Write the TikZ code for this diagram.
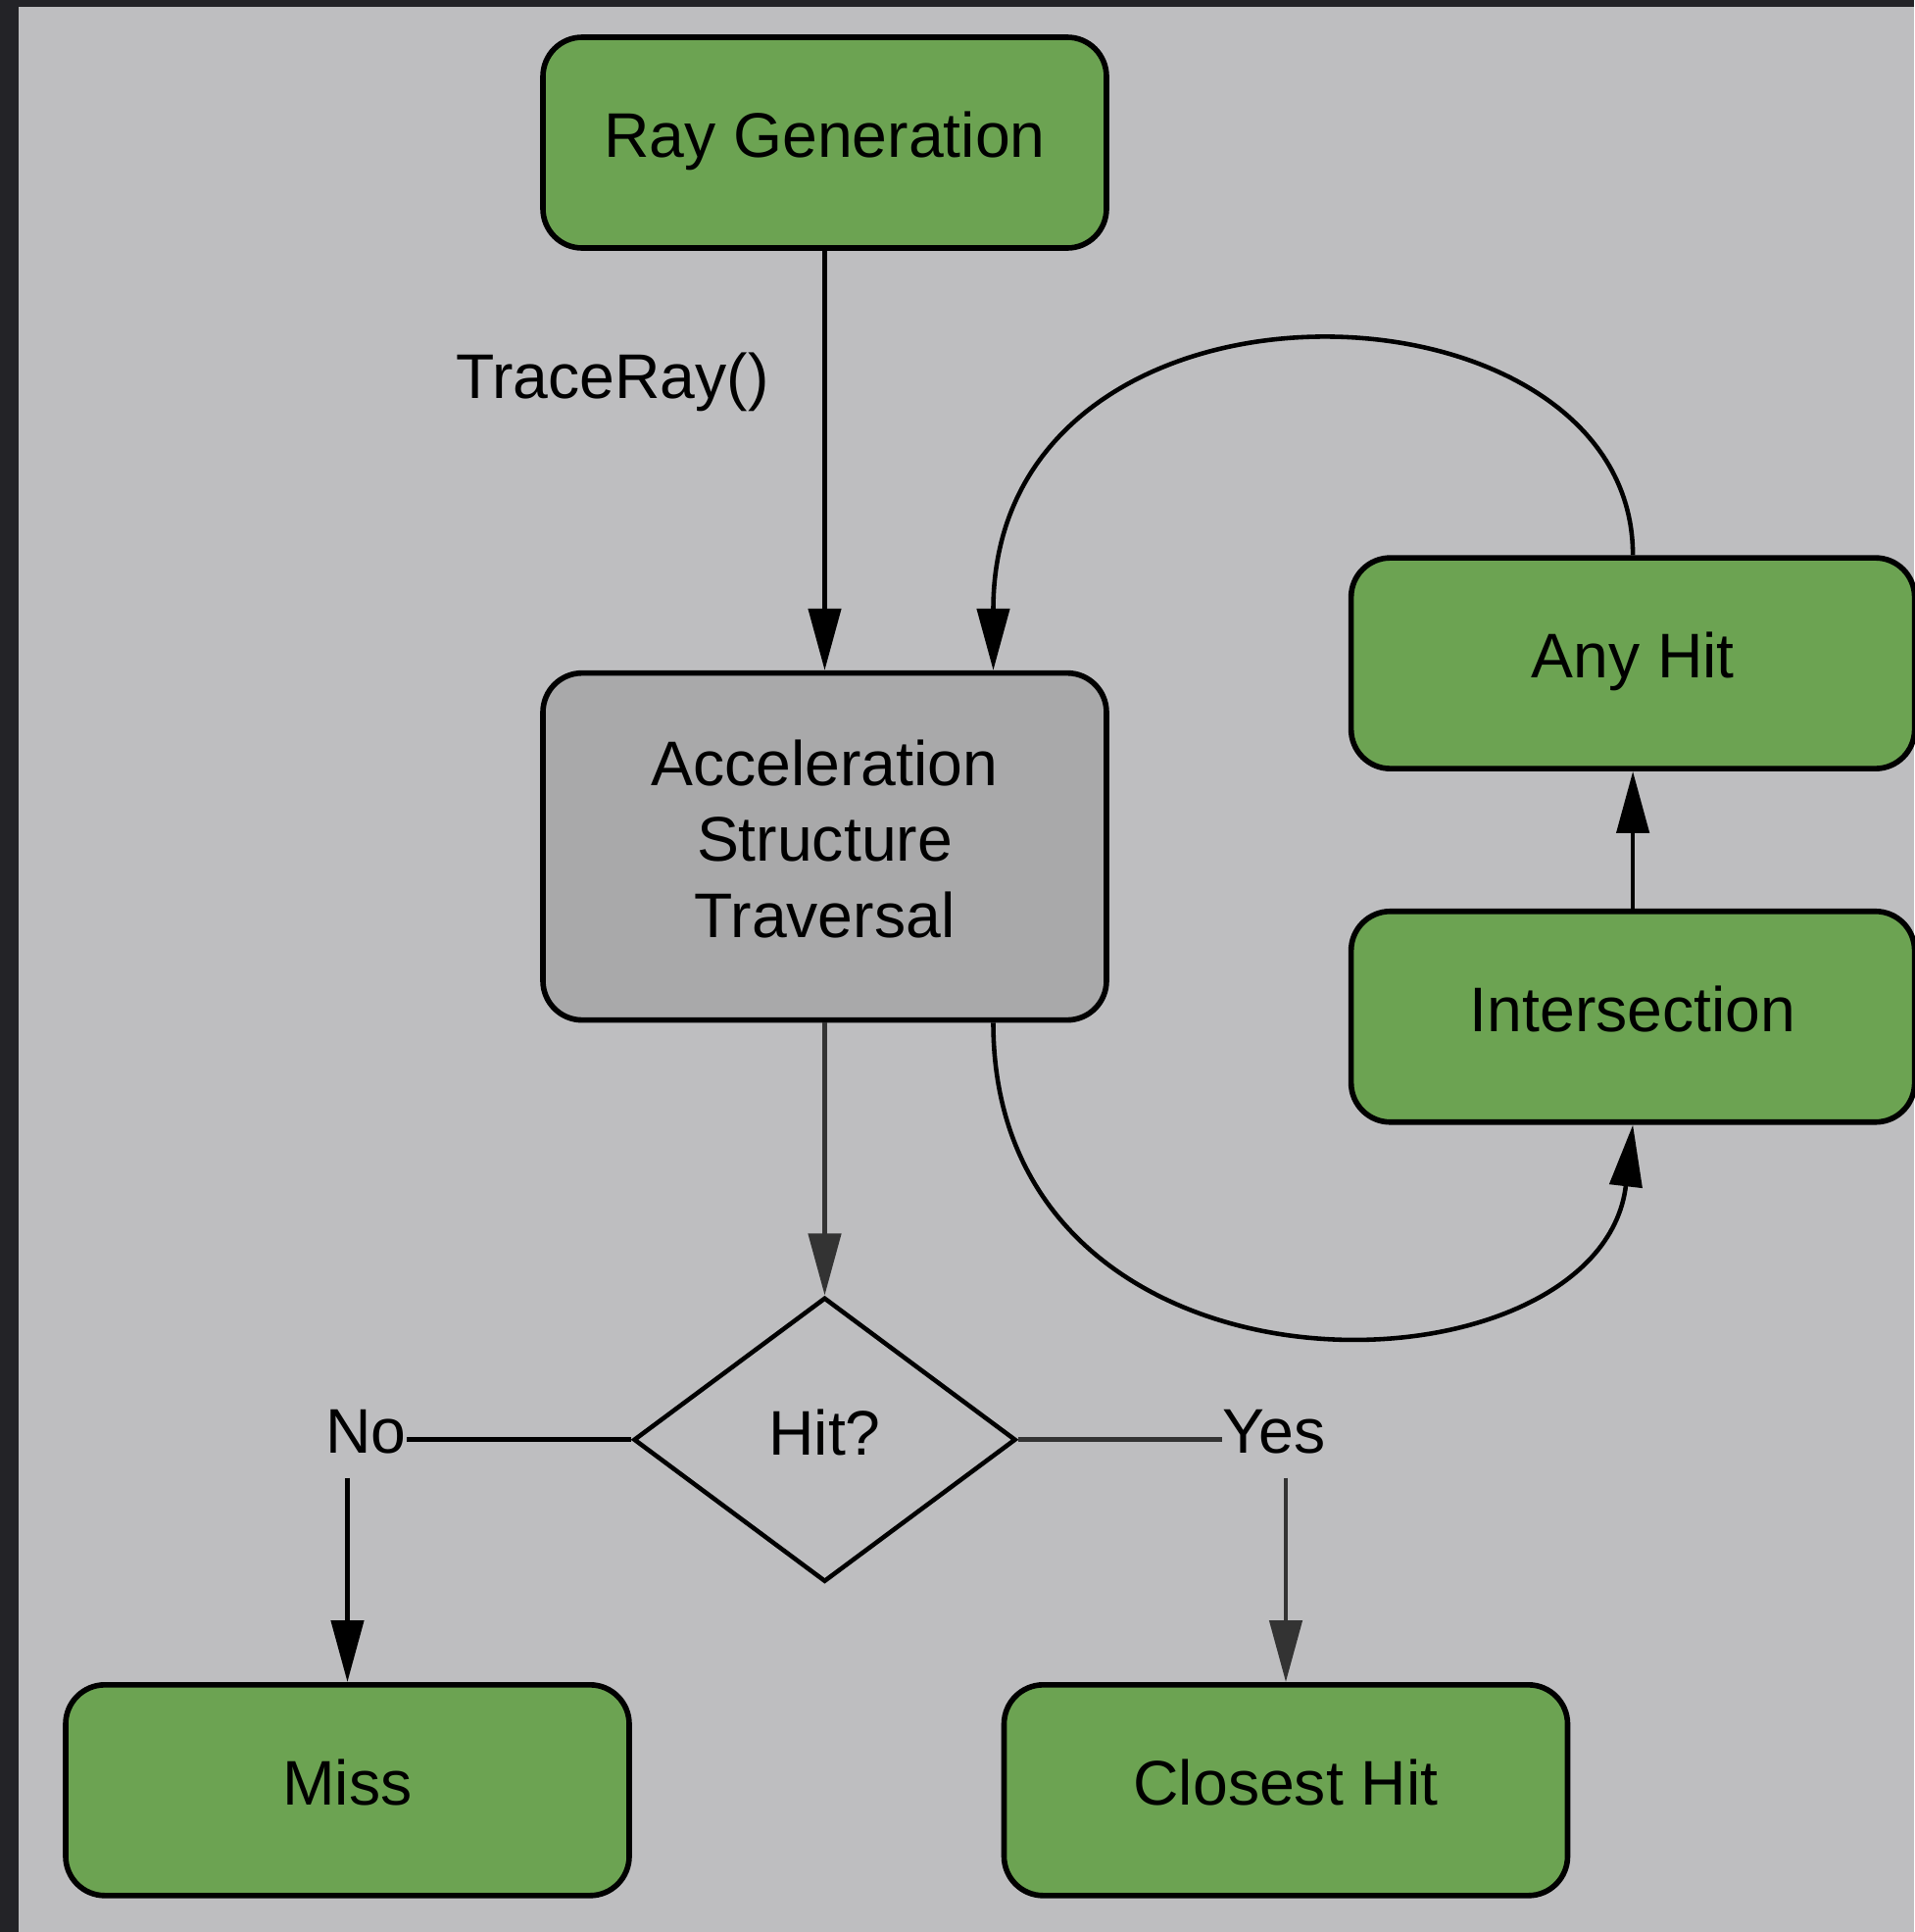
\documentclass[tikz,border=0pt]{standalone}
\usepackage{fontspec}
\setmainfont{Liberation Sans}
\usepackage{tikz}
\usetikzlibrary{positioning,shapes.geometric,arrows.meta}
\definecolor{stagegreen}{HTML}{6CA352}
\definecolor{stagegrey}{HTML}{A9A9AA}
\definecolor{canvas}{HTML}{BEBEC0}
\definecolor{frame}{HTML}{232327}
\definecolor{darkline}{HTML}{333333}

\begin{document}
\begin{tikzpicture}[
        node distance=1.5cm,
        font=\fontsize{18.3}{22}\selectfont,
        stage/.style={
            draw,
            line width=1.6pt,
            rectangle,
            fill=stagegreen,
            align=center,
            rounded corners=0.4cm,
            minimum width=5.75cm,
            minimum height=2.15cm,
            text depth=0.16cm,
            inner sep=0pt
        },
        decision/.style={draw, line width=1.3pt, diamond, minimum width=3.9cm, minimum height=2.9cm, text depth=0.16cm, inner sep=0pt},
        lbl/.style={inner sep=0pt, text depth=0.16cm},
        arr/.style={-{Triangle[length=6.3mm,width=3.3mm]}, line width=1.3pt}
    ]
        \useasboundingbox (0,0) rectangle (19.53,-19.71);
        \fill[frame] (0,0) rectangle (19.53,-19.71);
        \fill[canvas] (0.19,-0.07) rectangle (19.53,-19.71);

        \node[stage] (raygen) at (8.415,-1.455) {Ray Generation};
        \node[stage, fill=stagegrey, minimum height=3.54cm] (accel) [below=4.28cm of raygen] {Acceleration\\Structure\\Traversal};

        \node[stage] (anyhit) [right=2.44cm of accel, yshift=1.87cm] {Any Hit};
        \node[stage] (isect) [below=1.40cm of anyhit] {Intersection};

        \node[decision] (hit) [below=2.78cm of accel] {Hit?};

        \node[stage] (miss) [below=1.0cm of hit, xshift=-4.87cm] {Miss};
        \node[stage] (closest) [below=1.0cm of hit, xshift=4.705cm] {Closest Hit};

        \node[lbl] (traceray) at (6.25,-3.91) {TraceRay()};
        \node[lbl] (no) [left=2.29cm of hit] {No};
        \node[lbl] (yes) [right=2.08cm of hit] {Yes};

        \coordinate (loopin) at ([xshift=1.72cm]accel.north);
        \coordinate (loopout) at ([xshift=1.72cm]accel.south);

        \draw[arr] (raygen.south) -- (accel.north);
        \draw[arr, darkline] (accel.south) -- (hit.north);
        \draw[line width=1.3pt] (hit.west) -- (no.east);
        \draw[line width=1.3pt, darkline] (hit.east) -- (yes.west);
        \draw[arr, shorten <=0.8mm] (miss.north |- no.south) -- (miss.north);
        \draw[arr, darkline, shorten <=0.8mm] (closest.north |- yes.south) -- (closest.north);
        \draw[arr] (isect.north) -- (anyhit.south);
        \draw[arr] (anyhit.north) .. controls +(0,2.95) and +(0,4.35) .. (loopin);
        \draw[arr] (loopout) .. controls +(0,-4.1) and +(-0.33,-2.85) .. (isect.south);
    \end{tikzpicture}
\end{document}
